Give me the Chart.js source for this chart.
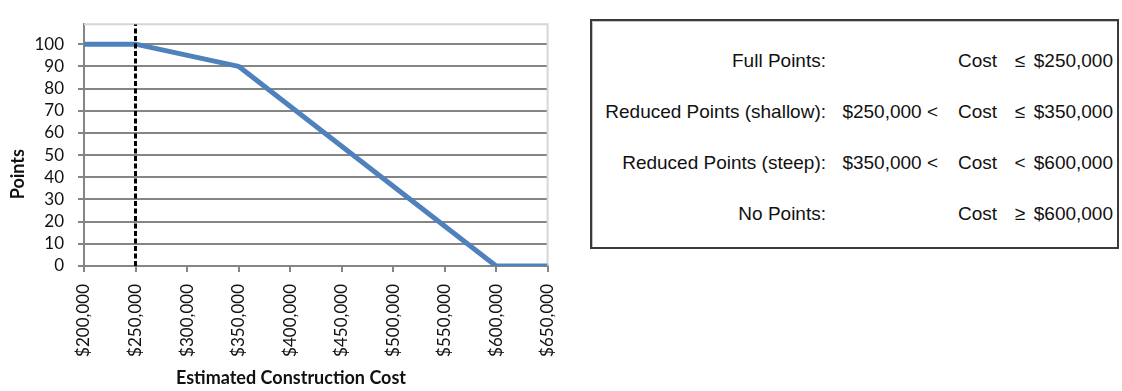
<!DOCTYPE html>
<html>
<head>
<meta charset="utf-8">
<script src="https://cdn.jsdelivr.net/npm/chart.js@4/dist/chart.umd.min.js"></script>
<style>
  html, body { margin: 0; padding: 0; background: #fff; }
  #wrap { position: relative; width: 1122px; height: 391px; overflow: hidden; }
  #chart { position: absolute; left: 0; top: 0; }
  #rules {
    position: absolute; left: 590px; top: 19px; width: 529px; height: 230px;
    box-sizing: border-box; border: 2px solid #3a3a3a;
    box-shadow: inset 1px 1px 0 #c4c4c4;
  }
  .t {
    position: absolute; font-family: "Liberation Sans", Arial, sans-serif;
    font-size: 19px; line-height: 20px; color: #111; white-space: nowrap;
  }
</style>
</head>
<body>
<div id="wrap">
  <canvas id="chart" width="580" height="391"></canvas>
  <div id="rules"></div>
</div>
<script>
// Points awarded against estimated construction cost
const costs = [200000, 250000, 350000, 600000, 650000];
const points = [100, 100, 90, 0, 0];
const thresholdCost = 250000;

const xTickValues = [200000, 250000, 300000, 350000, 400000, 450000, 500000, 550000, 600000, 650000];
const xTickLabels = ['$200,000', '$250,000', '$300,000', '$350,000', '$400,000',
                     '$450,000', '$500,000', '$550,000', '$600,000', '$650,000'];
const yTickValues = [0, 10, 20, 30, 40, 50, 60, 70, 80, 90, 100];
const yMax = 109;

const xAxisTitle = 'Estimated Construction Cost';
const yAxisTitle = 'Points';

// Scoring rules shown beside the chart
const ruleNames = ['Full Points:', 'Reduced Points (shallow):', 'Reduced Points (steep):', 'No Points:'];
const ruleLower = ['', '$250,000 <', '$350,000 <', ''];
const ruleOps = ['\u2264', '\u2264', '<', '\u2265'];
const ruleUpper = ['$250,000', '$350,000', '$600,000', '$600,000'];

// ---- rules panel ----
const wrap = document.getElementById('wrap');
const rowTops = [51, 102, 153, 204];
function addText(text, style) {
  const d = document.createElement('div');
  d.className = 't';
  d.textContent = text;
  Object.assign(d.style, style);
  wrap.appendChild(d);
}
ruleNames.forEach((name, i) => {
  const top = rowTops[i] + 'px';
  addText(name, { top, right: (1122 - 826) + 'px' });
  if (ruleLower[i]) addText(ruleLower[i], { top, right: (1122 - 938) + 'px' });
  addText('Cost', { top, left: '958px' });
  addText(ruleOps[i], { top, left: '1012px', width: '16px', textAlign: 'center' });
  addText(ruleUpper[i], { top, right: (1122 - 1113) + 'px' });
});

// ---- chart ----
const gridGray = '#858585';

const plotFrame = {
  id: 'plotFrame',
  beforeDatasetsDraw(chart) {
    const { ctx, chartArea: a } = chart;
    ctx.save();
    ctx.strokeStyle = '#d6d6d6';
    ctx.lineWidth = 2;
    ctx.beginPath();
    ctx.moveTo(a.left, a.top);
    ctx.lineTo(a.right, a.top);
    ctx.lineTo(a.right, a.bottom);
    ctx.stroke();
    ctx.restore();
  }
};

const axisTitles = {
  id: 'axisTitles',
  afterDraw(chart) {
    const { ctx, chartArea: a } = chart;
    ctx.save();
    ctx.fillStyle = '#111';
    ctx.font = 'bold 18px Lato';
    ctx.textAlign = 'center';
    ctx.textBaseline = 'middle';
    ctx.fillText(xAxisTitle, a.left + 207, 378);
    ctx.translate(18, a.top + 150);
    ctx.rotate(-Math.PI / 2);
    ctx.fillText(yAxisTitle, 0, 0);
    ctx.restore();
  }
};

new Chart(document.getElementById('chart'), {
  type: 'line',
  data: {
    datasets: [
      {
        data: [{ x: thresholdCost, y: 0 }, { x: thresholdCost, y: yMax }],
        borderColor: '#000',
        borderWidth: 3,
        borderDash: [5, 2.5],
        pointRadius: 0,
        order: 0
      },
      {
        data: costs.map((c, i) => ({ x: c, y: points[i] })),
        borderColor: '#4f81bd',
        borderWidth: 5,
        borderJoinStyle: 'round',
        tension: 0,
        pointRadius: 0,
        order: 1
      }
    ]
  },
  options: {
    responsive: false,
    animation: false,
    devicePixelRatio: 1,
    layout: { padding: { top: 5, right: 29, bottom: 0, left: 0 } },
    plugins: { legend: { display: false }, tooltip: { enabled: false } },
    scales: {
      x: {
        type: 'linear',
        min: xTickValues[0],
        max: xTickValues[xTickValues.length - 1],
        afterBuildTicks: s => { s.ticks = xTickValues.map(v => ({ value: v })); },
        afterFit: s => { s.height = 125; },
        grid: { drawOnChartArea: false, drawTicks: true, tickLength: 6, color: gridGray, tickColor: gridGray, lineWidth: 2 },
        border: { display: true, color: gridGray, width: 2 },
        ticks: {
          autoSkip: false, maxRotation: 90, minRotation: 90, padding: 12,
          color: '#111', font: { family: 'Lato', size: 17 },
          callback: (v, i) => xTickLabels[i]
        }
      },
      y: {
        min: 0,
        max: yMax,
        afterBuildTicks: s => { s.ticks = yTickValues.map(v => ({ value: v })); },
        afterFit: s => { s.width = 84; },
        grid: { color: gridGray, lineWidth: 2, tickLength: 6, drawTicks: true },
        border: { display: true, color: gridGray, width: 2 },
        ticks: { padding: 14, color: '#111', font: { family: 'Lato', size: 17 } }
      }
    }
  },
  plugins: [plotFrame, axisTitles]
});
</script>
</body>
</html>
